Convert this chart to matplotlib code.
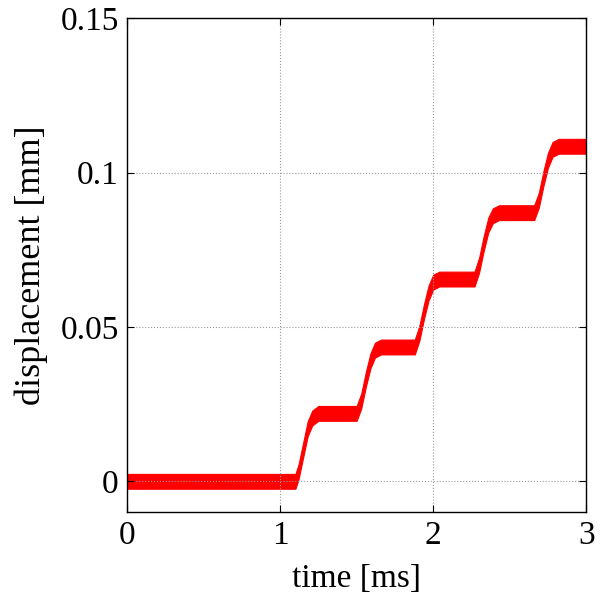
import matplotlib.pyplot as plt
import numpy as np

plt.rcParams["font.family"] = ["Liberation Serif", "DejaVu Serif"]

time_ms = [0.0, 1.10, 1.12, 1.15, 1.18, 1.21, 1.25, 1.50, 1.53, 1.56, 1.59, 1.62, 1.66,
           1.88, 1.91, 1.94, 1.97, 2.00, 2.04, 2.27, 2.30, 2.33, 2.36, 2.39, 2.43,
           2.66, 2.69, 2.72, 2.75, 2.78, 2.82, 3.0]
disp_mm = [0.0, 0.0, 0.003, 0.010, 0.017, 0.0205, 0.022, 0.022, 0.026, 0.033, 0.039, 0.0425, 0.0435,
           0.0435, 0.048, 0.055, 0.061, 0.0645, 0.0655, 0.0655, 0.070, 0.077, 0.083, 0.086, 0.087,
           0.087, 0.091, 0.098, 0.104, 0.1075, 0.1085, 0.1085]
noise_half = 0.0024

x_ticks = [0, 1, 2, 3]
y_ticks = [0, 0.05, 0.1, 0.15]
y_labels = ["0", "0.05", "0.1", "0.15"]

t = np.array(time_ms)
d = np.array(disp_mm)

fig = plt.figure(figsize=(6.05, 6.04), dpi=100)
ax = fig.add_axes([0.21, 0.152, 0.759, 0.818])

ax.fill_between(t, d - noise_half, d + noise_half, color="red", lw=0.8, edgecolor="red")

ax.set_xlim(0, 3)
ax.set_ylim(-0.01, 0.15)
ax.set_xticks(x_ticks)
ax.set_xticklabels([str(v) for v in x_ticks])
ax.set_yticks(y_ticks)
ax.set_yticklabels(y_labels)
ax.grid(True, linestyle=":", color="#999999", linewidth=0.8)
ax.tick_params(direction="in", top=True, right=True, length=5, labelsize=24, pad=6)
for s in ax.spines.values():
    s.set_linewidth(1.0)

ax.set_xlabel("time [ms]", fontsize=24, labelpad=9)
ax.set_ylabel("displacement [mm]", fontsize=26, labelpad=9)

fig.savefig("out.png", dpi=100)
